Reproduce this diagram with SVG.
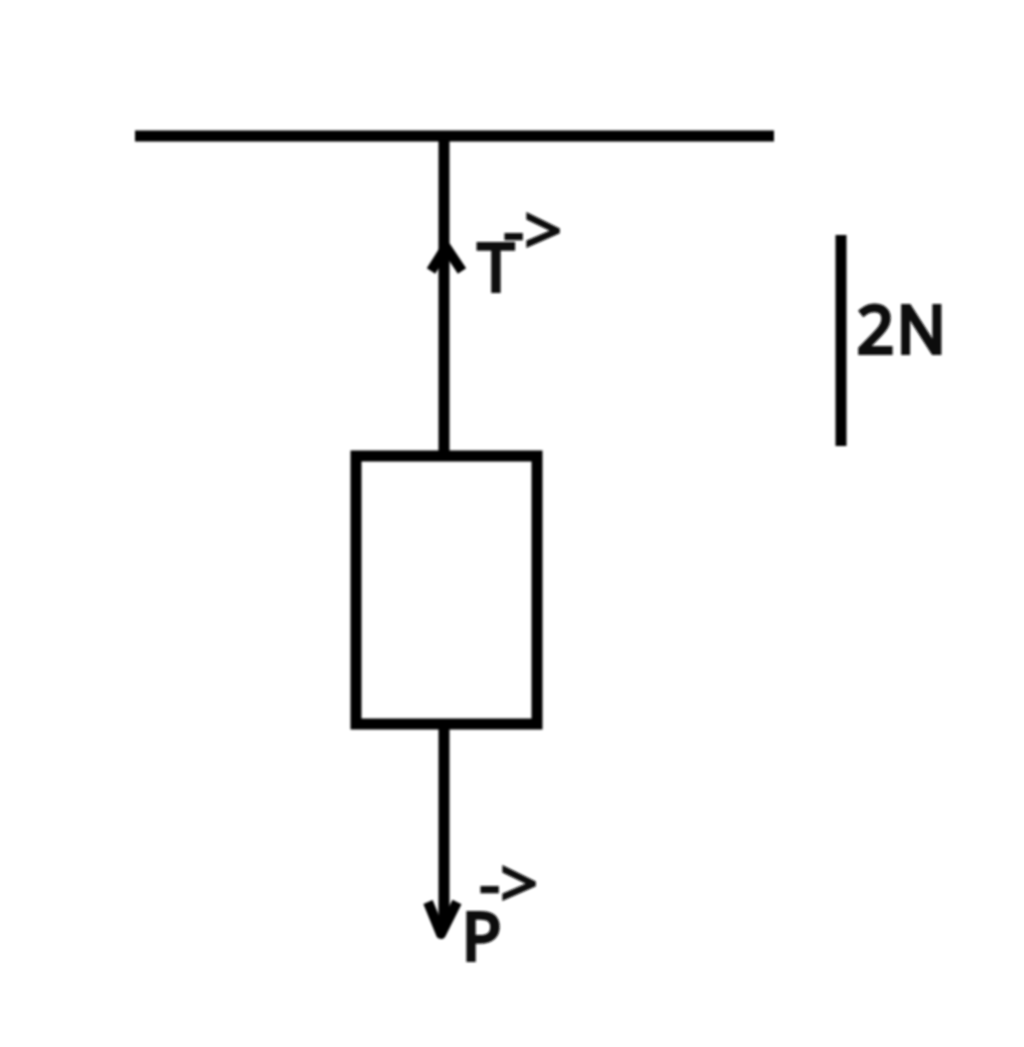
<svg xmlns="http://www.w3.org/2000/svg" width="1024" height="1047" viewBox="0 0 1024 1047">
<style>
.l{stroke:#000;stroke-width:11;fill:none}
.a{stroke:#000;stroke-width:10;fill:none;stroke-linejoin:round}
.t{font-family:"Open Sans","Noto Sans",sans-serif;fill:#0c0c0c;stroke:#0c0c0c;stroke-width:4px;font-weight:400}
.s{font-family:"Open Sans","Noto Sans",sans-serif;fill:#0c0c0c;stroke:#0c0c0c;stroke-width:2.5px;font-weight:400;font-size:66px}
</style>
<defs><filter id="b" x="-5%" y="-5%" width="110%" height="110%"><feGaussianBlur stdDeviation="0.9"/></filter></defs>
<rect width="1024" height="1047" fill="#fff"/>
<g filter="url(#b)">
<g id="connectors">
<line class="l" x1="135" y1="136" x2="774" y2="136"/>
<line class="l" x1="444" y1="136" x2="444" y2="456"/>
<line class="l" x1="444" y1="724" x2="444" y2="925"/>
<path class="a" d="M431 271L446 247L462 271"/>
<path class="a" d="M428 902L441 934L457 902"/>
</g>
<g id="block"><rect class="l" x="356" y="456" width="181" height="268"/></g>
<g id="scale"><line class="l" x1="841" y1="235" x2="841" y2="446"/><text class="t" x="857" y="353" font-size="65" letter-spacing="2.5">2N</text></g>
<g id="tension"><text class="t" x="478" y="291" font-size="65">T</text><text class="s" x="503" y="254">-&gt;</text></g>
<g id="weight"><text class="t" x="462" y="960" font-size="65">P</text><text class="s" x="479" y="907">-&gt;</text></g>
</g>
</svg>
